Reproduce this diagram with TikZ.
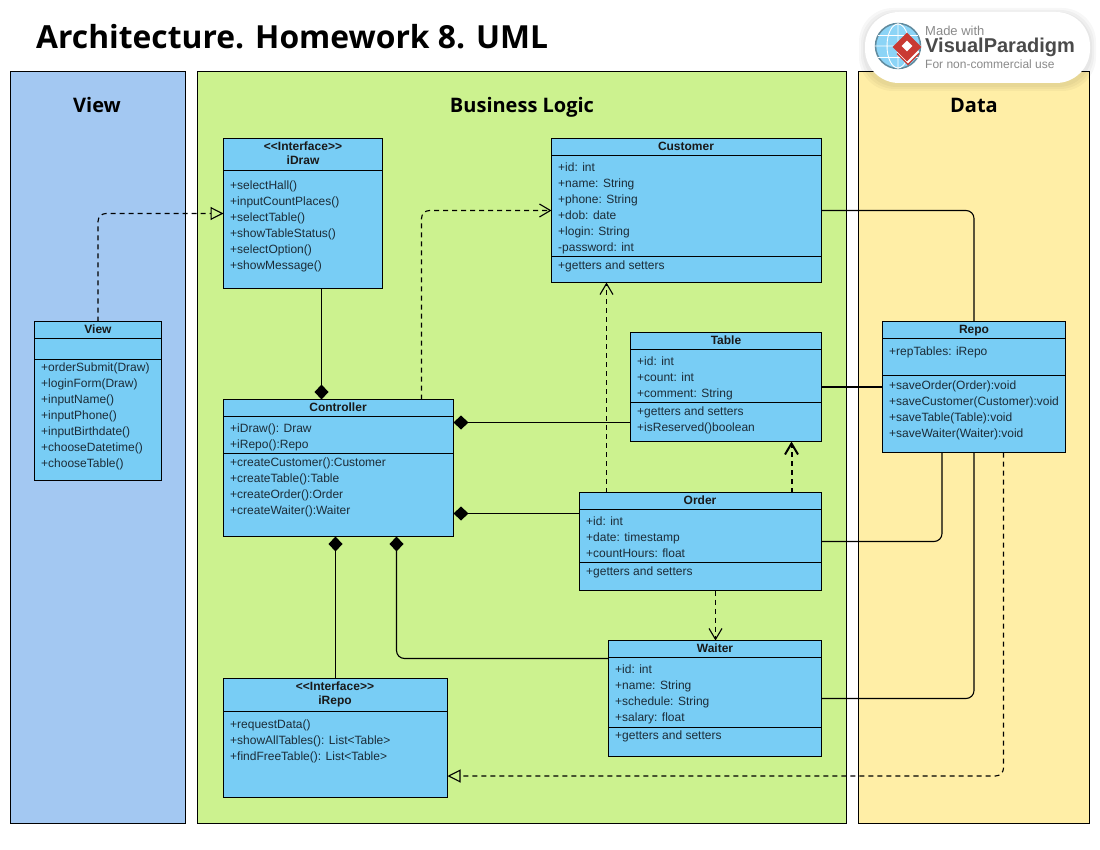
\documentclass[tikz,border=0pt]{standalone}
\usepackage{fontspec}
\setmainfont{Liberation Sans}
\newfontfamily\headfont{Open Sans}
\usetikzlibrary{arrows.meta,shapes.geometric}
\definecolor{viewblue}{HTML}{A3C8F2}
\definecolor{logicgreen}{HTML}{CCF28F}
\definecolor{datayellow}{HTML}{FFEEA6}
\definecolor{boxblue}{HTML}{78CDF5}
\definecolor{itemink}{HTML}{1C2C38}
\definecolor{logoink}{HTML}{4A4A4A}
\definecolor{logogray}{HTML}{8A8A8A}
\definecolor{logored}{HTML}{C93A33}
\tikzset{
	panel/.style    = {draw, line width=.9pt, anchor=north west, inner sep=0pt, outer sep=0pt},
	panelhead/.style = {font=\headfont\bfseries\fontsize{20}{24}\selectfont},
	box/.style      = {draw, fill=boxblue, line width=.9pt, anchor=north west, inner sep=0pt, outer sep=0pt},
	sep/.style      = {line width=.9pt},
	classname/.style = {font=\bfseries\fontsize{12}{14}\selectfont, align=center, inner sep=0pt, text=black!90},
	items/.style    = {font=\fontsize{12}{16}\selectfont, align=left, anchor=north west, inner sep=0pt,
		text=itemink, execute at begin node=\strut},
	link/.style     = {line width=1.1pt, rounded corners=8pt},
	dep/.style      = {link, dashed, dash pattern=on 5pt off 4pt},
	owned/.style    = {-{Diamond[length=15pt,width=14pt]}},
	realize/.style  = {-{Triangle[open,length=13pt,width=13pt]}},
	uses/.style     = {-{Straight Barb[length=11pt,width=13pt]}}
}

\begin{document}
\begin{tikzpicture}[x=1pt, y=-1pt]
	\useasboundingbox (0,0) rectangle (1100,850);
	\fill[white] (0,0) rectangle (1100,850);

	\node at (36,37) [anchor=west, inner sep=0pt, font=\headfont\bfseries\fontsize{31.8}{36}\selectfont] (pagetitle)
		{Architecture. Homework 8. UML};

	% layers
	\node at (10.5,71.5) [panel, fill=viewblue, minimum width=175pt, minimum height=752pt] (viewlayer) {};
	\node at (197.5,71.5) [panel, fill=logicgreen, minimum width=649pt, minimum height=752pt] (logiclayer) {};
	\node at (858.5,71.5) [panel, fill=datayellow, minimum width=231pt, minimum height=752pt] (datalayer) {};
	\node at (97,105) [panelhead] (viewhead) {View};
	\node at (522,107) [panelhead] (logichead) {Business Logic};
	\node at (974,105) [panelhead] (datahead) {Data};

	% logo
	\foreach \g in {6,4,2}
		\fill[black, opacity=.03, rounded corners=34pt] (865-\g,12-\g+2) rectangle (1090+\g,83+\g+2);
	\fill[white, rounded corners=34pt] (865,12) rectangle (1090,83);
	\node at (898,46) [circle, draw=black!30!boxblue!70!gray, line width=1.5pt, fill=boxblue!85!white, minimum size=45pt, inner sep=0pt] (globe) {};
	\draw[white, line width=.9pt] (globe.north) -- (globe.south) (globe.west) -- (globe.east)
		(globe.center) ellipse (11pt and 22pt);
	\draw[white, line width=.9pt] (878,35) -- (918,35) (878,57) -- (918,57);
	\node at (908,54) [diamond, fill=logored, minimum size=23pt, inner sep=0pt] (logolow) {};
	\node at (908,52) [diamond, fill=white, minimum size=23pt, inner sep=0pt] (logogap) {};
	\node at (907,47) [diamond, fill=logored, minimum size=29pt, inner sep=0pt] (logotop) {};
	\node at (907,46) [diamond, fill=white, minimum size=11pt, inner sep=0pt] (logohole) {};
	\node at (925,31) [anchor=west, inner sep=0pt, text=logogray, font=\fontsize{13}{14}\selectfont] (logomade) {Made with};
	\node at (925,47) [anchor=west, inner sep=0pt, text=logoink, font=\bfseries\fontsize{20}{22}\selectfont] (logoname) {VisualParadigm};
	\node at (925,64) [anchor=west, inner sep=0pt, text=logogray, font=\fontsize{12}{14}\selectfont] (logouse) {For non-commercial use};

	% classes
	\node at (34.5,321.5) [box, minimum width=127pt, minimum height=159pt] (vw) {};
	\node at (98,329) [classname] (vwname) {View};
	\draw[sep] (vw.west |- 0,338.5) -- (vw.east |- 0,338.5) (vw.west |- 0,359.5) -- (vw.east |- 0,359.5);
	\node at (41,363) [items] (vwops) {+orderSubmit(Draw)\\+loginForm(Draw)\\+inputName()\\+inputPhone()\\+inputBirthdate()\\+chooseDatetime()\\+chooseTable()};

	\node at (223.5,138.5) [box, minimum width=159pt, minimum height=150pt] (drw) {};
	\node at (303,153) [classname] (drwname) {{<}{<}Interface{>}{>}\\iDraw};
	\draw[sep] (drw.west |- 0,170.5) -- (drw.east |- 0,170.5);
	\node at (230,181) [items] (drwops) {+selectHall()\\+inputCountPlaces()\\+selectTable()\\+showTableStatus()\\+selectOption()\\+showMessage()};

	\node at (551.5,138.5) [box, minimum width=270pt, minimum height=144pt] (cus) {};
	\node at (686,146) [classname] (cusname) {Customer};
	\draw[sep] (cus.west |- 0,155.5) -- (cus.east |- 0,155.5) (cus.west |- 0,256.5) -- (cus.east |- 0,256.5);
	\node at (558,163) [items] (cusattr) {+id: int\\+name: String\\+phone: String\\+dob: date\\+login: String\\-password: int};
	\node at (558,258) [items] (cusops) {+getters and setters};

	\node at (630.5,332.5) [box, minimum width=191pt, minimum height=109pt] (tbl) {};
	\node at (726,340) [classname] (tblname) {Table};
	\draw[sep] (tbl.west |- 0,349.5) -- (tbl.east |- 0,349.5) (tbl.west |- 0,402.5) -- (tbl.east |- 0,402.5);
	\node at (637,357) [items] (tblattr) {+id: int\\+count: int\\+comment: String};
	\node at (637,407) [items] (tblops) {+getters and setters\\+isReserved()boolean};

	\node at (223.5,399.5) [box, minimum width=230pt, minimum height=137pt] (ctl) {};
	\node at (338,407) [classname] (ctlname) {Controller};
	\draw[sep] (ctl.west |- 0,416.5) -- (ctl.east |- 0,416.5) (ctl.west |- 0,453.5) -- (ctl.east |- 0,453.5);
	\node at (230,424) [items] (ctlattr) {+iDraw(): Draw\\+iRepo():Repo};
	\node at (230,458) [items] (ctlops) {+createCustomer():Customer\\+createTable():Table\\+createOrder():Order\\+createWaiter():Waiter};

	\node at (579.5,492.5) [box, minimum width=242pt, minimum height=98pt] (ord) {};
	\node at (700,500) [classname] (ordname) {Order};
	\draw[sep] (ord.west |- 0,509.5) -- (ord.east |- 0,509.5) (ord.west |- 0,562.5) -- (ord.east |- 0,562.5);
	\node at (586,517) [items] (ordattr) {+id: int\\+date: timestamp\\+countHours: float};
	\node at (586,564) [items] (ordops) {+getters and setters};

	\node at (608.5,640.5) [box, minimum width=213pt, minimum height=116pt] (wtr) {};
	\node at (715,648) [classname] (wtrname) {Waiter};
	\draw[sep] (wtr.west |- 0,657.5) -- (wtr.east |- 0,657.5) (wtr.west |- 0,727.5) -- (wtr.east |- 0,727.5);
	\node at (615,665) [items] (wtrattr) {+id: int\\+name: String\\+schedule: String\\+salary: float};
	\node at (615,728) [items] (wtrops) {+getters and setters};

	\node at (223.5,678.5) [box, minimum width=224pt, minimum height=119pt] (irp) {};
	\node at (335,694) [classname] (irpname) {{<}{<}Interface{>}{>}\\iRepo};
	\draw[sep] (irp.west |- 0,711.5) -- (irp.east |- 0,711.5);
	\node at (230,720) [items] (irpops) {+requestData()\\+showAllTables(): List<Table>\\+findFreeTable(): List<Table>};

	\node at (882.5,321.5) [box, minimum width=183pt, minimum height=131pt] (rep) {};
	\node at (974,331) [classname] (repname) {Repo};
	\draw[sep] (rep.west |- 0,338.5) -- (rep.east |- 0,338.5) (rep.west |- 0,375.5) -- (rep.east |- 0,375.5);
	\node at (889,344) [items] (repattr) {+repTables: iRepo};
	\node at (889,380.5) [items] (repops) {+saveOrder(Order):void\\+saveCustomer(Customer):void\\+saveTable(Table):void\\+saveWaiter(Waiter):void};

	% dependencies
	\draw[dep, realize] (vw.north) |- (drw.west);
	\draw[dep, uses] ([xshift=-32pt]ctl.north east) |- (cus.west);
	\draw[dep, uses] ([xshift=27pt]ord.north west) -- ([xshift=27pt]ord.north west |- cus.south);
	\draw[dep, uses, line width=2pt] ([xshift=-30pt]ord.north east) -- ([xshift=-30pt]ord.north east |- tbl.south);
	\draw[dep, uses] ([xshift=.5pt]ord.south -| wtr.north) -- ([xshift=.5pt]wtr.north);
	\draw[dep, realize] ([xshift=29.5pt]rep.south) |- ([yshift=-38pt]irp.east);

	% controller parts
	\draw[link, owned] ([xshift=18.5pt]drw.south) -- ([xshift=18.5pt]drw.south |- ctl.north);
	\draw[link, owned] ([yshift=-35.5pt]tbl.west) -- ([yshift=-35.5pt]tbl.west -| ctl.east);
	\draw[link, owned] ([yshift=28pt]ord.west) -- ([yshift=28pt]ord.west -| ctl.east);
	\draw[link, owned] (irp.north) -- (irp.north |- ctl.south);
	\draw[link, owned] ([yshift=40pt]wtr.west) -| ([xshift=58pt]ctl.south);

	% repo links
	\draw[link] (cus.east) -| (rep.north);
	\draw[link, line width=1.7pt] (tbl.east) -- (tbl.east -| rep.west);
	\draw[link] (ord.east) -| ([xshift=-32pt]rep.south);
	\draw[link] (wtr.east) -| (rep.south);
\end{tikzpicture}
\end{document}
